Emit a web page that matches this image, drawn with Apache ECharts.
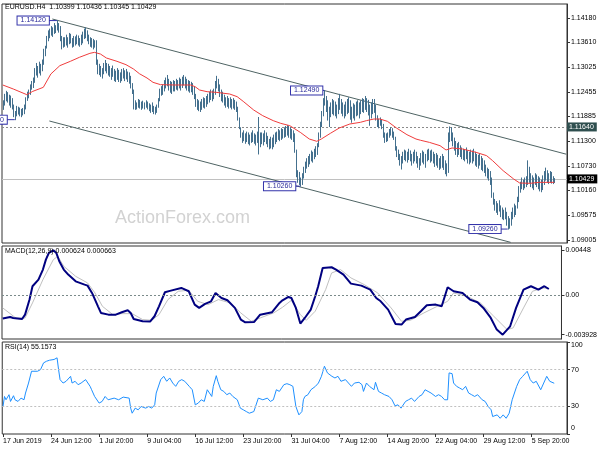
<!DOCTYPE html>
<html><head><meta charset="utf-8">
<script src="https://cdn.jsdelivr.net/npm/echarts@6/dist/echarts.min.js"></script>
<style>html,body{margin:0;padding:0;background:#fff}#c{width:600px;height:450px}</style>
</head><body><div id="c"></div>
<script>
// ---- data (prices in pips over 1.0000, i.e. 1225 => 1.1225) ----
const BAR_SLOTS = 376;
const xTickIndex = [0,32,64,96,128,160,192,224,256,288,320,352];
const xTickLabels = ['17 Jun 2019','24 Jun 12:00','1 Jul 20:00','9 Jul 04:00','16 Jul 12:00','23 Jul 20:00','31 Jul 04:00','7 Aug 12:00','14 Aug 20:00','22 Aug 04:00','29 Aug 12:00','5 Sep 20:00'];
const priceTicks = [1.09005,1.09575,1.10160,1.10730,1.11300,1.11885,1.12455,1.13025,1.13610,1.14180];
const macdTicks = [-0.003928, 0, 0.00448];
const macdTickLabels = ['-0.003928','0.00','0.00448'];
const rsiTicks = [0,30,70,100];

const highs = [
1225,1240,1247,1244,1238,1236,1230,1215,1200,1212,
1210,1208,1205,1207,1215,1232,1245,1250,1262,1270,
1278,1300,1312,1305,1315,1310,1320,1345,1352,1375,
1388,1392,1398,1395,1405,1400,1412,1405,1398,1375,
1372,1372,1378,1372,1382,1380,1370,1375,1374,1378,
1376,1370,1378,1385,1392,1395,1388,1378,1372,1370,
1368,1365,1365,1320,1310,1305,1300,1312,1319,1312,
1310,1305,1300,1306,1298,1294,1300,1296,1290,1298,
1300,1295,1298,1292,1290,1282,1265,1250,1225,1220,
1228,1226,1222,1224,1220,1225,1222,1218,1215,1220,
1212,1210,1215,1230,1252,1258,1262,1272,1278,1284,
1275,1270,1268,1272,1270,1275,1272,1278,1275,1280,
1284,1280,1275,1272,1270,1268,1265,1258,1240,1228,
1225,1222,1228,1232,1230,1235,1240,1245,1250,1248,
1252,1270,1282,1275,1262,1250,1245,1238,1232,1235,
1230,1232,1228,1230,1226,1222,1210,1185,1162,1150,
1155,1148,1152,1150,1145,1150,1155,1148,1145,1152,
1186,1150,1150,1148,1155,1150,1142,1135,1140,1138,
1145,1150,1152,1158,1155,1160,1158,1162,1165,1167,
1165,1162,1158,1155,1148,1110,1062,1058,1045,1055,
1070,1082,1090,1095,1100,1108,1105,1112,1118,1125,
1150,1175,1200,1230,1249,1235,1225,1210,1220,1228,
1225,1222,1215,1230,1240,1228,1220,1215,1222,1228,
1232,1225,1210,1218,1215,1222,1225,1220,1225,1230,
1228,1235,1230,1226,1215,1220,1228,1228,1215,1190,
1182,1185,1180,1170,1150,1148,1150,1158,1162,1160,
1152,1140,1118,1110,1100,1095,1105,1110,1108,1105,
1112,1108,1100,1105,1110,1105,1095,1090,1102,1108,
1105,1100,1110,1112,1108,1110,1105,1100,1102,1098,
1090,1095,1100,1095,1085,1078,1150,1164,1162,1150,
1138,1130,1125,1128,1120,1115,1112,1110,1115,1108,
1105,1110,1108,1112,1105,1100,1098,1102,1095,1090,
1085,1075,1068,1065,1060,1045,1010,995,990,985,
992,980,975,970,975,965,955,950,965,975,
984,980,1000,1025,1035,1045,1040,1045,1048,1085,
1070,1055,1050,1045,1055,1052,1048,1045,1040,1050,
1060,1068,1062,1055,1060,1058,1048,1043.6];
const lows = [
1205,1215,1225,1222,1215,1210,1206,1188,1181,1190,
1194,1190,1188,1192,1195,1206,1226,1232,1240,1252,
1256,1268,1285,1280,1290,1285,1295,1310,1330,1348,
1365,1372,1378,1375,1382,1384,1390,1385,1365,1346,
1350,1352,1355,1350,1358,1360,1350,1352,1355,1358,
1355,1352,1356,1360,1370,1372,1365,1358,1352,1350,
1346,1350,1310,1288,1286,1282,1278,1288,1295,1290,
1285,1282,1275,1282,1272,1270,1275,1270,1268,1272,
1278,1272,1276,1270,1266,1255,1242,1206,1205,1206,
1210,1208,1205,1208,1206,1210,1206,1202,1198,1200,
1195,1194,1198,1210,1225,1238,1240,1248,1255,1260,
1250,1245,1242,1248,1248,1252,1250,1255,1250,1256,
1262,1255,1250,1248,1245,1246,1240,1230,1212,1205,
1202,1200,1205,1210,1208,1212,1218,1222,1228,1225,
1230,1240,1255,1248,1235,1225,1222,1215,1210,1212,
1208,1210,1206,1208,1205,1200,1180,1160,1140,1128,
1132,1126,1130,1125,1122,1128,1130,1126,1122,1128,
1101,1118,1125,1122,1130,1125,1118,1113,1115,1113,
1118,1125,1130,1135,1132,1135,1138,1140,1142,1145,
1140,1138,1135,1130,1105,1048,1035,1030,1026,1030,
1045,1058,1068,1072,1078,1085,1082,1090,1095,1100,
1118,1140,1165,1190,1215,1200,1180,1165,1188,1195,
1192,1190,1185,1195,1205,1196,1190,1185,1190,1195,
1198,1182,1175,1185,1180,1190,1192,1185,1195,1200,
1198,1205,1200,1192,1168,1185,1195,1198,1180,1165,
1162,1168,1160,1140,1128,1130,1132,1140,1145,1140,
1135,1110,1095,1088,1075,1066,1080,1088,1085,1082,
1088,1085,1075,1080,1085,1080,1070,1065,1075,1082,
1078,1070,1085,1088,1082,1085,1080,1072,1075,1070,
1065,1068,1070,1065,1055,1050,1058,1130,1132,1120,
1110,1100,1095,1100,1095,1090,1088,1085,1090,1080,
1078,1082,1080,1085,1075,1072,1068,1075,1065,1062,
1058,1050,1045,1040,1030,1000,984,970,965,960,
968,955,950,948,950,935,926,928,935,950,
955,960,975,990,1012,1020,1018,1022,1025,1030,
1035,1025,1022,1018,1030,1025,1020,1015,1013,1018,
1030,1040,1035,1032,1035,1033,1032,1034.5];

// moving average [bar index, pips]
const maPoints = [[0,1261.8],[7,1252.5],[16,1239.3],[20,1247],[27,1256.4],[32,1287.4],[38,1306.9],[45,1317],[51,1326.3],[58,1335.6],[61,1337.9],[65,1334],[69,1324.7],[76,1317],[82,1309.2],[87,1299.1],[91,1288],[96,1278.1],[100,1268],[105,1262.6],[114,1261.8],[125,1261.8],[128,1257.9],[131,1250.1],[136,1246.2],[142,1244.7],[151,1240.8],[156,1234.6],[160,1223.7],[167,1203.5],[173,1190.3],[180,1178.7],[185,1172.4],[191,1167],[198,1151.5],[204,1135.9],[209,1130.5],[212,1135.9],[218,1149.1],[224,1161.6],[231,1170.9],[238,1174.8],[242,1178.7],[247,1182.5],[251,1182.5],[256,1177.1],[262,1161.6],[269,1146],[275,1135.9],[278,1133],[284,1128],[291,1120.4],[295,1110.3],[299,1115],[306,1112.6],[315,1104.8],[322,1097.1],[326,1085.4],[333,1062.1],[340,1042.7],[344,1033.4],[351,1032.6],[357,1034.9],[367,1034.9]];

// MACD & signal [bar index, value x 1e-4]
const macdPoints = [[0,-23.2],[5,-21.6],[7,-22.6],[13,-23.6],[15,-19.3],[18,-4.3],[20,9.0],[24,15.6],[27,25.6],[29,35.5],[31,42.2],[34,44.8],[36,42.2],[38,33.9],[41,25.6],[44,20.6],[49,13.9],[55,10.6],[57,9.6],[60,2.3],[64,-11.0],[66,-17.6],[71,-19.3],[76,-19.3],[80,-16.9],[84,-14.9],[86,-17.6],[88,-23.6],[94,-25.9],[99,-26.2],[102,-20.9],[105,-11.0],[109,3.0],[113,4.6],[120,7.3],[125,4.0],[129,-9.3],[132,-12.6],[136,-8.6],[140,-6.0],[143,2.3],[147,-2.7],[151,-5.0],[156,-12.6],[160,-24.2],[163,-26.9],[169,-26.6],[173,-19.3],[181,-16.9],[186,-7.6],[188,-5.0],[192,-1.7],[194,-2.7],[197,-12.6],[200,-28.2],[203,-22.6],[207,-14.3],[210,-1.0],[212,9.0],[215,27.2],[221,27.9],[224,25.6],[229,20.6],[234,11.6],[241,9.6],[247,5.6],[251,-2.7],[254,-6.0],[259,-14.3],[264,-28.6],[268,-29.2],[271,-24.2],[277,-21.6],[281,-15.9],[285,-10.0],[291,-9.3],[295,-11.0],[299,8.0],[303,4.0],[309,2.3],[314,-4.3],[319,-7.0],[323,-12.6],[328,-22.6],[332,-34.2],[336,-39.28],[341,-30.9],[345,-12.6],[350,5.6],[355,9.0],[360,5.6],[364,9.0],[367,6.24]];
const signalPoints = [[0,-12.6],[9,-22.9],[15,-22.6],[20,-7.6],[27,15.6],[34,35.5],[37,38.8],[41,28.9],[49,18.9],[57,12.3],[62,2.3],[67,-11.0],[74,-19.3],[80,-18.3],[87,-18.3],[94,-24.2],[100,-24.9],[105,-19.3],[111,-4.3],[118,4.0],[125,5.0],[131,-6.0],[138,-9.3],[145,-4.3],[153,-7.6],[160,-17.6],[167,-25.9],[173,-22.6],[182,-17.6],[188,-12],[194,-5.0],[200,-19.3],[204,-24.9],[210,-15.9],[217,5.6],[221,22.2],[227,25.6],[234,17.3],[243,10.6],[252,2.3],[261,-12.6],[268,-25.9],[274,-24.9],[283,-17.6],[292,-11.0],[299,-6.0],[303,2.3],[312,-1.0],[321,-7.6],[330,-20.9],[339,-34.2],[343,-32.5],[350,-12.6],[356,4.0],[363,7.3],[367,6.63]];

// RSI(14) [bar index, value]
const rsiPoints = [[0,29.9],[1,40.8],[2,37.2],[4,42.7],[5,35.4],[7,41.6],[8,37.2],[10,35.4],[12,39],[14,37.2],[15,44.5],[17,55.4],[19,68.2],[20,66.4],[23,68.2],[25,70],[27,77.3],[29,79.1],[31,80.2],[34,81],[36,82.8],[37,70],[38,59.1],[40,55.4],[42,57.3],[45,62.7],[46,55.4],[48,57.3],[50,53.6],[52,55.4],[55,59.1],[56,60.9],[58,51.8],[59,48.1],[61,40.8],[64,33.6],[66,35.4],[68,40.8],[70,37.2],[74,39],[77,37.2],[80,40.1],[84,39],[85,28.1],[86,22.6],[88,28.1],[90,26.3],[92,29.9],[95,28.1],[97,29.9],[99,28.1],[101,31.7],[102,44.5],[105,59.1],[107,62.7],[109,57.3],[111,60.9],[113,55.4],[115,51.8],[117,57.3],[119,59.1],[121,57.3],[124,51.8],[126,48.1],[128,31.7],[130,33.6],[132,37.2],[134,35.4],[136,48.1],[137,50],[139,40.8],[140,51.8],[142,63.4],[143,57.3],[145,48.1],[147,46.3],[149,42.7],[151,44.5],[153,40.8],[156,37.2],[158,28.1],[160,26.3],[162,24.4],[164,22.6],[167,24.4],[168,22.6],[170,39],[171,40.8],[173,37.2],[176,39],[178,35.4],[180,37.2],[182,48.1],[184,46.3],[187,53.6],[189,54.7],[191,53.6],[193,51.8],[195,29.9],[197,20.8],[199,24.4],[200,37.2],[201,40.8],[203,42.7],[205,48.1],[208,51.8],[210,55.4],[212,62.7],[213,68.2],[214,73.7],[216,66.4],[219,62.7],[221,60.9],[223,62.7],[225,57.3],[228,59.1],[230,55.4],[232,51.8],[234,55.4],[237,56.2],[239,53.6],[240,46.3],[242,55.4],[244,51.8],[247,48.1],[248,56.2],[250,46.3],[252,44.5],[254,42.7],[257,40.8],[259,37.2],[261,30.6],[263,31.7],[265,28.1],[268,35.4],[270,37.2],[272,39],[274,35.4],[277,40.8],[279,42.7],[281,48.1],[283,46.3],[285,44.5],[288,40.8],[290,42.7],[292,40.8],[294,37.2],[296,37.2],[297,66.4],[299,65.6],[300,55.4],[302,51.8],[304,50],[306,48.1],[308,51.8],[310,44.5],[312,42.7],[314,40.8],[316,42.7],[319,37.2],[321,35.4],[323,29.9],[325,26.3],[326,19],[329,20.8],[331,17.1],[333,20.8],[335,17.1],[337,22.6],[339,37.2],[340,39],[342,51.8],[344,59.1],[346,62.7],[349,68.2],[351,59.1],[353,55.4],[355,57.3],[358,48.1],[360,55.4],[362,62.7],[364,57.3],[365,55.4],[367,55.16]];

// horizontal levels and drawn objects (in data space)
const resistanceLevel = 1.11640;
const lastPrice = 1.10429;
const pivotLabels = [[8,1.11810],[36,1.14120],[198,1.10260],[214,1.12490],[336,1.09260]];
const channelUpper = [[33,1.14156],[375,1.11005]];
const channelLower = [[31,1.11779],[338,1.0895]];

// ---- styling ----
const pivotGap = [8,8,5,2,7];
const FONT = '"Liberation Sans", Arial, sans-serif';
const toPrice = v => 1 + v / 10000;
const cats = Array.from({length: BAR_SLOTS}, (_, i) => String(i));
const barData = highs.map((h, i) => [i, toPrice(lows[i]), toPrice(h)]);
const isTick = i => xTickIndex.indexOf(i) >= 0;
const GL = 2, GR = 33;

const chart = echarts.init(document.getElementById('c'), null, {renderer: 'canvas'});
const xAx = g => ({
  type: 'category', data: cats, gridIndex: g, boundaryGap: true,
  axisLine: {show: false},
  axisTick: {show: g === 2, interval: (i) => isTick(i), alignWithLabel: true, length: 3, lineStyle: {color: '#333'}},
  axisLabel: {show: g === 2, interval: (i) => isTick(i), align: 'left', fontSize: 7, color: '#000', margin: 4, fontFamily: FONT,
    formatter: (v) => { const k = xTickIndex.indexOf(Number(v)); return k >= 0 ? xTickLabels[k] : ''; }},
  splitLine: {show: false}
});
const yCommon = {
  position: 'right', axisLine: {show: true, lineStyle: {color: '#333'}},
  splitLine: {show: false}
};
const hLine = (v, color, type, tagBg) => ({
  yAxis: v, lineStyle: {color: color, type: type, width: 1},
  label: tagBg ? {show: true, position: 'end', distance: 0, formatter: v.toFixed(5), color: '#fff', backgroundColor: tagBg, padding: [1, 3, 1, 2], fontSize: 7, fontFamily: FONT} : {show: false}
});
const staticText = [
  {id: 't1', type: 'text', left: 5, top: 4, z: 10, style: {text: 'EURUSD.H4  1.10399 1.10436 1.10345 1.10429', font: '7px ' + FONT, fill: '#000'}},
  {id: 't2', type: 'text', left: 5, top: 248, z: 10, style: {text: 'MACD(12,26,9) 0.000624 0.000663', font: '7px ' + FONT, fill: '#000'}},
  {id: 't3', type: 'text', left: 5, top: 344, z: 10, style: {text: 'RSI(14) 55.1573', font: '7px ' + FONT, fill: '#000'}},
  {id: 'wm', type: 'text', left: 115, top: 209, z: 0, style: {text: 'ActionForex.com', font: '18px ' + FONT, fill: '#d2d2d2'}}
];
chart.setOption({
  animation: false,
  backgroundColor: '#fff',
  textStyle: {fontFamily: FONT},
  grid: [
    {left: GL, right: GR, top: 4, height: 239, show: true, borderColor: '#333', borderWidth: 1},
    {left: GL, right: GR, top: 246, height: 93, show: true, borderColor: '#333', borderWidth: 1},
    {left: GL, right: GR, top: 342, height: 92, show: true, borderColor: '#333', borderWidth: 1}
  ],
  xAxis: [xAx(0), xAx(1), xAx(2)],
  yAxis: [
    Object.assign({}, yCommon, {gridIndex: 0, type: 'value', min: 1.08935, max: 1.14506,
      axisTick: {show: true, customValues: priceTicks, length: 3, lineStyle: {color: '#333'}},
      axisLabel: {customValues: priceTicks, formatter: v => v.toFixed(5), fontSize: 7, color: '#000', margin: 4, fontFamily: FONT}}),
    Object.assign({}, yCommon, {gridIndex: 1, type: 'value', min: -0.004356, max: 0.004908,
      axisTick: {show: true, customValues: macdTicks, length: 3, lineStyle: {color: '#333'}},
      axisLabel: {customValues: macdTicks, fontSize: 7, color: '#000', margin: 4, fontFamily: FONT,
        formatter: v => { let best = 0; macdTicks.forEach((t, k) => { if (Math.abs(t - v) < Math.abs(macdTicks[best] - v)) best = k; }); return macdTickLabels[best]; }}}),
    Object.assign({}, yCommon, {gridIndex: 2, type: 'value', min: 0, max: 100,
      axisTick: {show: true, customValues: rsiTicks, length: 3, lineStyle: {color: '#333'}},
      axisLabel: {customValues: rsiTicks.slice(1), fontSize: 7, color: '#000', margin: 4, fontFamily: FONT,
        verticalAlignMaxLabel: 'top', formatter: v => String(Math.round(v))}})
  ],
  graphic: staticText,
  series: [
    {
      type: 'custom', xAxisIndex: 0, yAxisIndex: 0, data: barData, encode: {x: 0, y: [1, 2]}, clip: true, z: 3,
      renderItem: (params, api) => {
        const i = api.value(0);
        const p1 = api.coord([i, api.value(1)]);
        const p2 = api.coord([i, api.value(2)]);
        const px = Math.round(p1[0]) + 0.5;
        return {type: 'line', shape: {x1: px, y1: p1[1] + 0.5, x2: px, y2: p2[1] - 0.5}, style: {stroke: '#44708e', lineWidth: 1}};
      }
    },
    {
      type: 'line', xAxisIndex: 0, yAxisIndex: 0, z: 4, symbol: 'none', showSymbol: false,
      data: maPoints.map(([i, v]) => [i, toPrice(v)]),
      lineStyle: {color: '#f03c3c', width: 1},
      markLine: {
        symbol: ['none', 'none'], silent: true, animation: false, z: 2, precision: 6,
        data: [
          hLine(resistanceLevel, '#8a8a8a', [2, 2], '#2f4f4f'),
          hLine(lastPrice, '#c0c0c0', 'solid', '#000'),
          [{coord: channelUpper[0], lineStyle: {color: '#4f6464', type: 'solid', width: 1}, label: {show: false}}, {coord: channelUpper[1]}],
          [{coord: channelLower[0], lineStyle: {color: '#4f6464', type: 'solid', width: 1}, label: {show: false}}, {coord: channelLower[1]}]
        ]
      },
      markPoint: {
        silent: true, animation: false, symbol: 'rect', z: 6, precision: 6,
        data: pivotLabels.map(([i, p], k) => ({
          coord: [i, p], symbolSize: [pivotGap[k], 1], symbolOffset: [-pivotGap[k] / 2, 0],
          itemStyle: {color: '#3333aa'},
          label: {show: true, position: 'left', distance: 0, formatter: p.toFixed(5), color: '#2a2a9a', backgroundColor: '#fff',
            borderColor: '#3333aa', borderWidth: 1, padding: [1, 3, 0, 3], fontSize: 7, fontFamily: FONT}
        }))
      }
    },
    {
      type: 'line', xAxisIndex: 1, yAxisIndex: 1, symbol: 'none', z: 3,
      data: signalPoints.map(([i, v]) => [i, v / 10000]),
      lineStyle: {color: '#c0c0c0', width: 1},
      markLine: {symbol: ['none', 'none'], silent: true, animation: false, label: {show: false}, precision: 6,
        data: [{yAxis: 0, lineStyle: {color: '#7a8a8a', type: [2, 2], width: 1}}]}
    },
    {
      type: 'line', xAxisIndex: 1, yAxisIndex: 1, symbol: 'none', z: 4,
      data: macdPoints.map(([i, v]) => [i, v / 10000]),
      lineStyle: {color: '#000080', width: 2}
    },
    {
      type: 'line', xAxisIndex: 2, yAxisIndex: 2, symbol: 'none', z: 4,
      data: rsiPoints,
      lineStyle: {color: '#1e90ff', width: 1},
      markLine: {symbol: ['none', 'none'], silent: true, animation: false, label: {show: false},
        data: [
          {yAxis: 70, lineStyle: {color: '#c0c0c0', type: [2, 2], width: 1}},
          {yAxis: 30, lineStyle: {color: '#c0c0c0', type: [2, 2], width: 1}}
        ]}
    }
  ]
});
// RSI minimum ("0") label: drawn as its own text, its y taken from the RSI axis scale
let rsiZeroY = NaN;
try { rsiZeroY = Number(chart.convertToPixel({yAxisIndex: 2}, rsiTicks[0])); } catch (e) {}
if (!isFinite(rsiZeroY)) {
  try { const pt = chart.convertToPixel({gridIndex: 2}, [0, rsiTicks[0]]); rsiZeroY = Number(pt && pt[1]); } catch (e) {}
}
if (!isFinite(rsiZeroY)) rsiZeroY = 434;
const zr = chart.getZr();
const zeroText = new echarts.graphic.Text({
  x: 600 - GR + 4, y: Math.round(rsiZeroY) - 9, z: 100, zlevel: 0,
  style: {text: String(rsiTicks[0]), fill: '#000', fontSize: 7, fontFamily: '"Liberation Sans", Arial, sans-serif', align: 'left', verticalAlign: 'top'}
});
zr.add(zeroText);
zr.refreshImmediately && zr.refreshImmediately();
</script></body></html>
